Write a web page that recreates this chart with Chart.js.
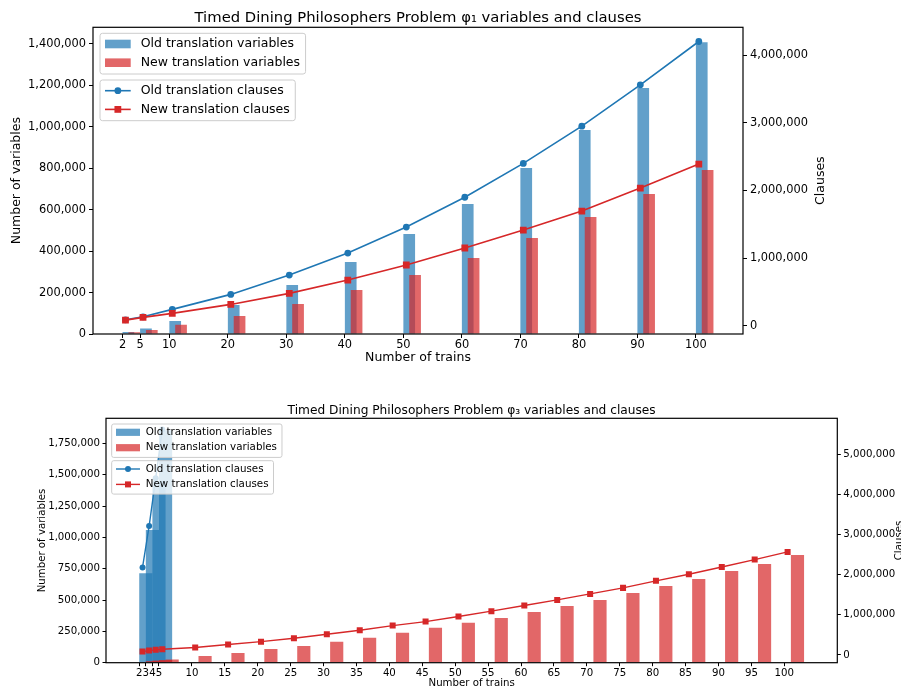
<!DOCTYPE html>
<html><head><meta charset="utf-8">
<script src="https://cdn.jsdelivr.net/npm/chart.js@4.4.0/dist/chart.umd.min.js"></script>
<style>
html,body{margin:0;padding:0;background:#fff;overflow:hidden;}
#wrap{position:relative;width:901px;height:686px;overflow:hidden;background:#fff;}
#c1{position:absolute;left:0;top:0;}
#c2{position:absolute;left:0;top:395px;}
</style></head><body>
<div id="wrap">
<canvas id="c1" width="901" height="380"></canvas>
<canvas id="c2" width="901" height="300"></canvas>
</div>
<script>
// ---------- Data: chart 1 (phi_1) ----------
const trains1 = [2, 5, 10, 20, 30, 40, 50, 60, 70, 80, 90, 100];
const oldVars1 = [10000, 27000, 63000, 140000, 237000, 348000, 483000, 628000, 801000, 985000, 1187000, 1409000];
const newVars1 = [8000, 19000, 45000, 87000, 145000, 212000, 285000, 367000, 464000, 565000, 676000, 792000];
const oldClauses1 = [90000, 134000, 244000, 465000, 751000, 1076000, 1460000, 1900000, 2400000, 2950000, 3560000, 4200000];
const newClauses1 = [85000, 125000, 185000, 317000, 480000, 677000, 899000, 1150000, 1415000, 1696000, 2035000, 2390000];
const xTicks1 = [2, 5, 10, 20, 30, 40, 50, 60, 70, 80, 90, 100];
const yTicks1 = [0, 200000, 400000, 600000, 800000, 1000000, 1200000, 1400000];
const y1Ticks1 = [0, 1000000, 2000000, 3000000, 4000000];

// ---------- Data: chart 2 (phi_3) ----------
const trainsOld2 = [2, 3, 4, 5];
const oldVars2 = [713000, 1058000, 1450000, 1855000];
const oldClauses2 = [2180000, 3210000, 4400000, 5620000];
const trains2 = [2, 3, 4, 5, 10, 15, 20, 25, 30, 35, 40, 45, 50, 55, 60, 65, 70, 75, 80, 85, 90, 95, 100];
const newVars2 = [14000, 18000, 22000, 26000, 53000, 77000, 109000, 133000, 168000, 200000, 239000, 279000, 318000, 357000, 404000, 452000, 500000, 556000, 612000, 668000, 731000, 787000, 859000];
const newClauses2 = [82000, 107000, 125000, 140000, 183000, 257000, 330000, 415000, 515000, 615000, 730000, 830000, 955000, 1090000, 1230000, 1370000, 1520000, 1670000, 1845000, 2010000, 2190000, 2375000, 2567000];
const xTicks2 = [2, 3, 4, 5, 10, 15, 20, 25, 30, 35, 40, 45, 50, 55, 60, 65, 70, 75, 80, 85, 90, 95, 100];
const yTicks2 = [0, 250000, 500000, 750000, 1000000, 1250000, 1500000, 1750000];
const y1Ticks2 = [0, 1000000, 2000000, 3000000, 4000000, 5000000];

// ---------- Styling ----------
const FONT = "'DejaVu Sans', 'Liberation Sans', sans-serif";
const BLUE = '#1f77b4', RED = '#d62728';
const BLUE_A = 'rgba(31,119,180,0.7)', RED_A = 'rgba(214,39,40,0.7)';
const OLD_SHIFT = 1, NEW_SHIFT = 2, LINE_SHIFT = 0.5;
const fmt = v => Number(v).toLocaleString('en-US');

function roundRect(ctx, x, y, w, h, r) {
  ctx.beginPath();
  ctx.moveTo(x + r, y);
  ctx.lineTo(x + w - r, y); ctx.quadraticCurveTo(x + w, y, x + w, y + r);
  ctx.lineTo(x + w, y + h - r); ctx.quadraticCurveTo(x + w, y + h, x + w - r, y + h);
  ctx.lineTo(x + r, y + h); ctx.quadraticCurveTo(x, y + h, x, y + h - r);
  ctx.lineTo(x, y + r); ctx.quadraticCurveTo(x, y, x + r, y);
  ctx.closePath();
}

function makeDecor(S) {
  return {
    id: 'decor',
    afterDatasetsDraw(chart) {
      const {ctx, chartArea: a} = chart;
      ctx.save();
      ctx.strokeStyle = '#000'; ctx.lineWidth = S.frameW;
      ctx.strokeRect(a.left, a.top, a.right - a.left, a.bottom - a.top);
      ctx.restore();
    },
    afterDraw(chart) {
      const {ctx, chartArea: a} = chart;
      ctx.save();
      ctx.fillStyle = '#000';
      ctx.textAlign = 'center'; ctx.textBaseline = 'middle';
      ctx.font = S.titleSize + 'px ' + FONT;
      ctx.fillText(S.title, (a.left + a.right) / 2, S.titleY);
      ctx.save();
      ctx.translate(S.rightTitleX, (a.top + a.bottom) / 2);
      ctx.rotate(-Math.PI / 2);
      ctx.font = S.lab + 'px ' + FONT;
      ctx.fillText('Clauses', 0, 0);
      ctx.restore();
      // legends
      ctx.font = S.leg + 'px ' + FONT;
      S.legends.forEach(L => {
        const bx = a.left + L.dx, by = a.top + L.dy;
        let maxW = 0;
        L.rows.forEach(r => { maxW = Math.max(maxW, ctx.measureText(r.label).width); });
        const bw = S.textX + maxW + S.padR;
        roundRect(ctx, bx, by, bw, S.legH, S.legR);
        ctx.fillStyle = 'rgba(255,255,255,0.8)'; ctx.fill();
        ctx.strokeStyle = '#cccccc'; ctx.lineWidth = 1; ctx.stroke();
        L.rows.forEach((r, i) => {
          const ry = by + S.row0 + i * S.rowGap;
          const hx = bx + S.handleX;
          if (r.kind === 'patch') {
            ctx.fillStyle = r.color;
            ctx.fillRect(hx, ry - S.patchH / 2, S.handleLen, S.patchH);
          } else {
            ctx.strokeStyle = r.color; ctx.lineWidth = S.lw;
            ctx.beginPath(); ctx.moveTo(hx, ry); ctx.lineTo(hx + S.handleLen, ry); ctx.stroke();
            ctx.fillStyle = r.color;
            const cx = hx + S.handleLen / 2;
            if (r.point === 'circle') {
              ctx.beginPath(); ctx.arc(cx, ry, S.dotR, 0, Math.PI * 2); ctx.fill();
            } else {
              const h = S.sqR * Math.SQRT1_2;
              ctx.fillRect(cx - h, ry - h, 2 * h, 2 * h);
            }
          }
          ctx.fillStyle = '#000'; ctx.textAlign = 'left'; ctx.textBaseline = 'middle';
          ctx.fillText(r.label, bx + S.textX, ry);
        });
      });
      ctx.restore();
    }
  };
}

const legendRows = [
  [{label: 'Old translation variables', kind: 'patch', color: BLUE_A},
   {label: 'New translation variables', kind: 'patch', color: RED_A}],
  [{label: 'Old translation clauses', kind: 'line', color: BLUE, point: 'circle'},
   {label: 'New translation clauses', kind: 'line', color: RED, point: 'rect'}]
];

function axisCommon(S, ticksArr, cb, pad) {
  return {
    type: 'linear', offset: false,
    grid: {display: true, drawOnChartArea: false, drawTicks: true, tickLength: S.tl, color: '#000', tickColor: '#000', lineWidth: 1, offset: false},
    border: {display: false},
    ticks: {autoSkip: false, maxRotation: 0, minRotation: 0, padding: pad, color: '#000', font: {family: FONT, size: S.tick}, callback: cb},
    afterBuildTicks: s => { s.ticks = ticksArr.map(v => ({value: v})); }
  };
}

function buildChart(id, S, D) {
  const datasets = [
    {type: 'line', label: 'New translation clauses', xAxisID: 'x', yAxisID: 'y1',
     data: D.trains.map((t, i) => ({x: t + LINE_SHIFT, y: D.newClauses[i]})),
     borderColor: RED, backgroundColor: RED, borderWidth: S.lw, pointStyle: 'rect',
     pointRadius: S.sqR, pointHoverRadius: S.sqR, pointBorderWidth: 0, tension: 0, fill: false, order: 0},
    {type: 'line', label: 'Old translation clauses', xAxisID: 'x', yAxisID: 'y1',
     data: D.trainsOld.map((t, i) => ({x: t + LINE_SHIFT, y: D.oldClauses[i]})),
     borderColor: BLUE, backgroundColor: BLUE, borderWidth: S.lw, pointStyle: 'circle',
     pointRadius: S.dotR, pointHoverRadius: S.dotR, pointBorderWidth: 0, tension: 0, fill: false, order: 1},
    {type: 'bar', label: 'New translation variables', xAxisID: 'x', yAxisID: 'y',
     data: D.trains.map((t, i) => ({x: t + NEW_SHIFT, y: D.newVars[i]})),
     backgroundColor: RED_A, borderWidth: 0, grouped: false, categoryPercentage: 1, barPercentage: 2, order: 2},
    {type: 'bar', label: 'Old translation variables', xAxisID: 'x', yAxisID: 'y',
     data: D.trainsOld.map((t, i) => ({x: t + OLD_SHIFT, y: D.oldVars[i]})),
     backgroundColor: BLUE_A, borderWidth: 0, grouped: false, categoryPercentage: 1, barPercentage: 2, order: 3}
  ];
  const x = Object.assign(axisCommon(S, D.xTicks, v => String(v), S.xtp), {
    position: 'bottom', min: S.xMin, max: S.xMax,
    afterFit: s => { s.height = S.xh; },
    title: {display: true, text: 'Number of trains', color: '#000', font: {family: FONT, size: S.lab}, padding: {top: 0, bottom: 0}}
  });
  const y = Object.assign(axisCommon(S, D.yTicks, fmt, S.tp), {
    position: 'left', min: 0, max: S.yMax,
    afterFit: s => { s.width = S.yw; },
    title: {display: true, text: 'Number of variables', color: '#000', font: {family: FONT, size: S.lab}, padding: {top: S.ytp, bottom: 0}}
  });
  const y1 = Object.assign(axisCommon(S, D.y1Ticks, fmt, S.tp), {
    position: 'right', min: S.y1Min, max: S.y1Max,
    afterFit: s => { s.width = S.y1w; },
    title: {display: false}
  });
  return new Chart(document.getElementById(id), {
    type: 'bar',
    data: {datasets},
    options: {
      responsive: false, animation: false, devicePixelRatio: 1,
      layout: {padding: {left: 0, right: 0, top: S.padT, bottom: S.padB}},
      plugins: {legend: {display: false}, tooltip: {enabled: false}, title: {display: false}},
      scales: {x, y, y1}
    },
    plugins: [makeDecor(S)]
  });
}

const S1 = {
  title: 'Timed Dining Philosophers Problem φ₁ variables and clauses', titleSize: 14.8, titleY: 18.5,
  tick: 11.4, lab: 12.5, leg: 12.5, tl: 4, tp: 3, xtp: 0.5,
  xMin: -3.05, xMax: 108.05, yMax: 1480600, y1Min: -120000, y1Max: 4410000,
  padT: 27.3, padB: 14.5, xh: 31.5, yw: 93, y1w: 158, ytp: 9.2, rightTitleX: 820.5,
  lw: 1.6, dotR: 3.4, sqR: 4.8, frameW: 1.2,
  legends: [{dx: 7, dy: 6, rows: legendRows[0]}, {dx: 7, dy: 52.7, rows: legendRows[1]}],
  textX: 40.7, padR: 5.5, legH: 40.7, legR: 2.5, row0: 10.7, rowGap: 18.7, handleX: 5, handleLen: 25.7, patchH: 8.6
};
const S2 = {
  title: 'Timed Dining Philosophers Problem φ₃ variables and clauses', titleSize: 12.2, titleY: 16,
  tick: 10.2, lab: 10.2, leg: 10.3, tl: 3.5, tp: 2.5, xtp: 0.8,
  xMin: -3.05, xMax: 108.05, yMax: 1949600, y1Min: -195000, y1Max: 5897000,
  padT: 23.3, padB: 5.4, xh: 26.9, yw: 106, y1w: 63.7, ytp: 36.6, rightTitleX: 899.5,
  lw: 1.4, dotR: 3.0, sqR: 4.25, frameW: 1.2,
  legends: [{dx: 5.7, dy: 5.7, rows: legendRows[0]}, {dx: 5.7, dy: 42.4, rows: legendRows[1]}],
  textX: 34, padR: 5, legH: 33.4, legR: 2, row0: 8.3, rowGap: 15.4, handleX: 4.3, handleLen: 24, patchH: 7.2
};

buildChart('c1', S1, {trains: trains1, trainsOld: trains1, oldVars: oldVars1, newVars: newVars1,
  oldClauses: oldClauses1, newClauses: newClauses1, xTicks: xTicks1, yTicks: yTicks1, y1Ticks: y1Ticks1});
buildChart('c2', S2, {trains: trains2, trainsOld: trainsOld2, oldVars: oldVars2, newVars: newVars2,
  oldClauses: oldClauses2, newClauses: newClauses2, xTicks: xTicks2, yTicks: yTicks2, y1Ticks: y1Ticks2});
</script>
</body></html>
